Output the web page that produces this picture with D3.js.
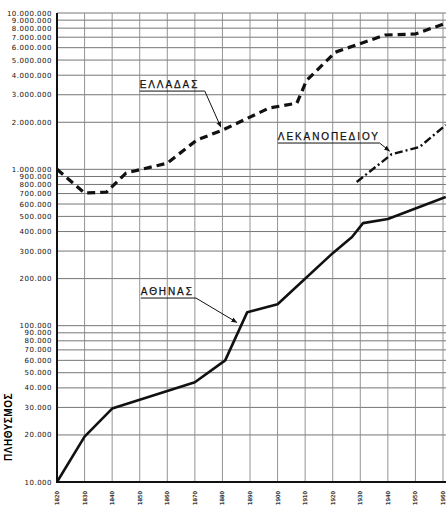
<!DOCTYPE html>
<html>
<head>
<meta charset="utf-8">
<script src="https://cdn.jsdelivr.net/npm/d3@7"></script>
<style>
  body { margin: 0; background: #fff; }
  svg { display: block; }
  .tick-y { font-family: "DejaVu Sans", sans-serif; font-size: 7px; letter-spacing: 0.5px; fill: #111; }
  .tick-x { font-family: "DejaVu Sans", sans-serif; font-size: 5.5px; fill: #111; stroke: #111; stroke-width: 0.15px; }
  .lbl { font-family: "Liberation Sans", Arial, sans-serif; font-size: 10px; letter-spacing: 1.9px; fill: #111; stroke: #111; stroke-width: 0.25px; }
</style>
</head>
<body>
<svg id="svg" width="446" height="510"></svg>
<script>
// years on x axis
const decades = d3.range(1820, 1961, 10);

// y tick values (labelled gridlines)
const yTicks = [10000, 20000, 30000, 40000, 50000, 60000, 70000, 80000, 90000,
  100000, 200000, 300000, 400000, 500000, 600000, 700000, 800000, 900000,
  1000000, 2000000, 3000000, 4000000, 5000000, 6000000, 7000000, 8000000, 9000000, 10000000];

// Ελλάδα (dashed)
const greeceYears = [1820, 1830, 1838, 1845, 1860, 1870.7, 1880, 1897, 1907, 1910.5, 1921, 1939, 1950, 1961];
const greeceValues = [1000000, 705000, 716000, 946000, 1096000, 1540000, 1780000, 2470000, 2650000, 3700000, 5620000, 7230000, 7340000, 8600000];

// Αθήνα (solid)
const athensYears = [1820, 1830, 1840, 1870, 1881, 1889, 1900, 1920, 1927, 1931, 1940, 1961];
const athensValues = [10000, 19500, 29500, 43500, 60000, 122000, 137000, 291000, 369000, 453000, 481000, 665000];

// Λεκανοπέδιο (dash-dot)
const basinYears = [1928.7, 1941.4, 1951.5, 1961];
const basinValues = [830000, 1250000, 1390000, 1920000];

// labels: text anchor point, underline end, arrow tip (data coords)
const labels = [
  { text: 'ΕΛΛΑΔΑΣ', x: 1850, y: 3310000, ux: 1873.6, tx: 1879.4, ty: 1866000 },
  { text: 'ΛΕΚΑΝΟΠΕΔΙΟΥ', x: 1900.1, y: 1540000, ux: 1937, tx: 1940.6, ty: 1310000 },
  { text: 'ΑΘΗΝΑΣ', x: 1850.4, y: 157000, ux: 1870.4, tx: 1885.2, ty: 105000 }
];

const svg = d3.select('#svg');

const x = d3.scaleLinear().domain([1820, 1960]).range([57, 443]);
const y = d3.scaleLog().domain([10000, 10000000]).range([482, 13]);

const fmt = v => d3.format(',')(v).replace(/,/g, '.');

svg.append('defs').append('marker')
  .attr('id', 'arr')
  .attr('viewBox', '0 0 10 10')
  .attr('refX', 9).attr('refY', 5)
  .attr('markerWidth', 6).attr('markerHeight', 6)
  .attr('orient', 'auto')
  .append('path')
  .attr('d', 'M0,1 L10,5 L0,9 Z')
  .attr('fill', '#111');

// grid
const grid = svg.append('g');
grid.selectAll('.hg')
  .data(yTicks)
  .join('line')
  .attr('x1', x(1820)).attr('x2', 446)
  .attr('y1', d => y(d)).attr('y2', d => y(d))
  .attr('stroke', '#666').attr('stroke-width', 0.9);

grid.selectAll('.vg')
  .data(decades)
  .join('line')
  .attr('x1', d => x(d)).attr('x2', d => x(d))
  .attr('y1', y(10000000)).attr('y2', y(10000))
  .attr('stroke', '#888').attr('stroke-width', 0.9);

// axes lines
svg.append('line')
  .attr('x1', x(1820)).attr('x2', x(1820))
  .attr('y1', y(10000000)).attr('y2', y(10000) + 1)
  .attr('stroke', '#111').attr('stroke-width', 2);
svg.append('line')
  .attr('x1', x(1820) - 1).attr('x2', 446)
  .attr('y1', y(10000)).attr('y2', y(10000))
  .attr('stroke', '#111').attr('stroke-width', 1.8);

// y tick labels
svg.selectAll('.tick-y')
  .data(yTicks)
  .join('text')
  .attr('class', 'tick-y')
  .attr('x', 52)
  .attr('y', d => y(d) + 2.5)
  .attr('text-anchor', 'end')
  .text(d => fmt(d));

// x tick labels
svg.selectAll('.tick-x')
  .data(decades)
  .join('text')
  .attr('class', 'tick-x')
  .attr('transform', d => `translate(${x(d) + 2},491) rotate(-90)`)
  .attr('text-anchor', 'end')
  .text(d => d);

// y title
svg.append('text')
  .attr('transform', 'translate(12,427) rotate(-90)')
  .attr('text-anchor', 'middle')
  .style('font-family', '"Liberation Sans", Arial, sans-serif')
  .style('font-size', '10px')
  .style('font-weight', 'bold')
  .style('letter-spacing', '0.5px')
  .text('ΠΛΗΘΥΣΜΟΣ');

const line = d3.line().x(d => x(d[0])).y(d => y(d[1]));

svg.append('path')
  .datum(d3.zip(greeceYears, greeceValues))
  .attr('d', line)
  .attr('fill', 'none')
  .attr('stroke', '#111')
  .attr('stroke-width', 3.2)
  .attr('stroke-dasharray', '8,5');

svg.append('path')
  .datum(d3.zip(athensYears, athensValues))
  .attr('d', line)
  .attr('fill', 'none')
  .attr('stroke', '#111')
  .attr('stroke-width', 2.6)
  .attr('stroke-linejoin', 'round');

svg.append('path')
  .datum(d3.zip(basinYears, basinValues))
  .attr('d', line)
  .attr('fill', 'none')
  .attr('stroke', '#111')
  .attr('stroke-width', 2.4)
  .attr('stroke-dasharray', '8,3,2,3');

// annotations
const ann = svg.selectAll('.ann')
  .data(labels)
  .join('g')
  .attr('class', 'ann');

ann.append('text')
  .attr('class', 'lbl')
  .attr('x', d => x(d.x))
  .attr('y', d => y(d.y))
  .text(d => d.text);

ann.append('path')
  .attr('d', d => `M${x(d.x)},${y(d.y) + 3}H${x(d.ux)}L${x(d.tx)},${y(d.ty)}`)
  .attr('fill', 'none')
  .attr('stroke', '#111')
  .attr('stroke-width', 1)
  .attr('marker-end', 'url(#arr)');
</script>
</body>
</html>
